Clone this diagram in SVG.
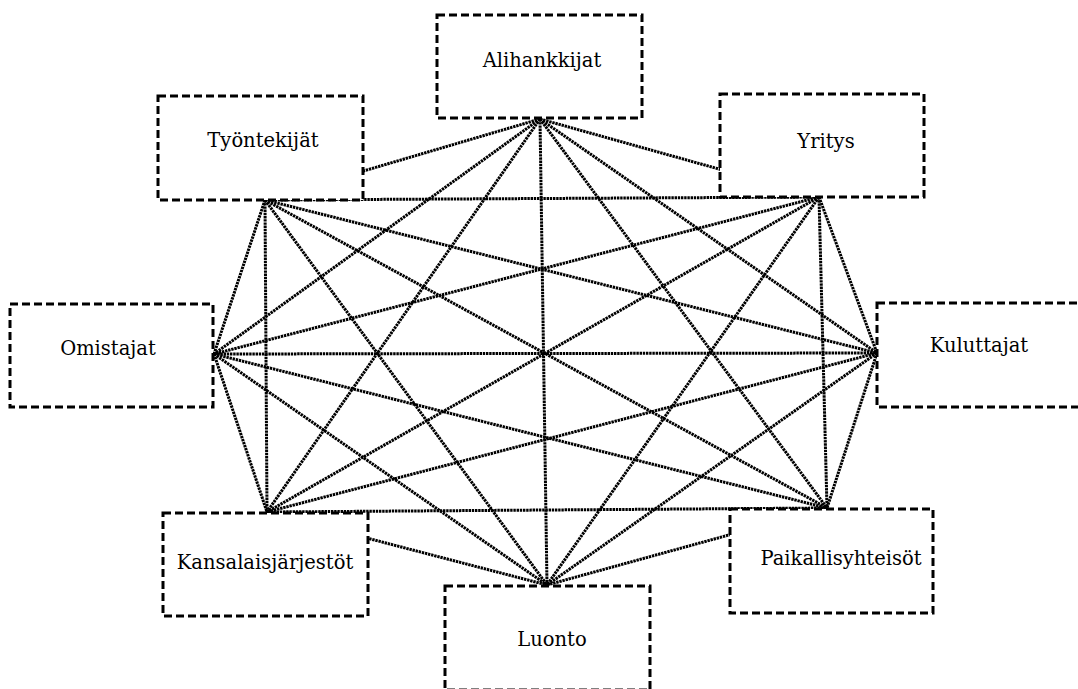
<svg xmlns="http://www.w3.org/2000/svg" width="1078" height="689" viewBox="0 0 1078 689">
<style>
.bg{fill:#fff}
.c line{stroke:#000;stroke-width:3;stroke-dasharray:2.4 0.8}
.box{fill:#fff;stroke:#000;stroke-width:3;stroke-dasharray:8 4}
.t{font-family:"DejaVu Serif","Liberation Serif",serif;font-size:19.5px;fill:#000;text-anchor:middle}
</style>
<rect class="bg" x="0" y="0" width="1078" height="689"/>
<g id="connectors" class="c">
<line x1="540" y1="119" x2="265" y2="200"/>
<line x1="540" y1="119" x2="819" y2="197"/>
<line x1="540" y1="119" x2="214" y2="354"/>
<line x1="540" y1="119" x2="877" y2="353"/>
<line x1="540" y1="119" x2="267" y2="512"/>
<line x1="540" y1="119" x2="827" y2="508"/>
<line x1="540" y1="119" x2="547" y2="585"/>
<line x1="265" y1="200" x2="819" y2="197"/>
<line x1="265" y1="200" x2="214" y2="354"/>
<line x1="265" y1="200" x2="877" y2="353"/>
<line x1="265" y1="200" x2="267" y2="512"/>
<line x1="265" y1="200" x2="827" y2="508"/>
<line x1="265" y1="200" x2="547" y2="585"/>
<line x1="819" y1="197" x2="214" y2="354"/>
<line x1="819" y1="197" x2="877" y2="353"/>
<line x1="819" y1="197" x2="267" y2="512"/>
<line x1="819" y1="197" x2="827" y2="508"/>
<line x1="819" y1="197" x2="547" y2="585"/>
<line x1="214" y1="354" x2="877" y2="353"/>
<line x1="214" y1="354" x2="267" y2="512"/>
<line x1="214" y1="354" x2="827" y2="508"/>
<line x1="214" y1="354" x2="547" y2="585"/>
<line x1="877" y1="353" x2="267" y2="512"/>
<line x1="877" y1="353" x2="827" y2="508"/>
<line x1="877" y1="353" x2="547" y2="585"/>
<line x1="267" y1="512" x2="827" y2="508"/>
<line x1="267" y1="512" x2="547" y2="585"/>
<line x1="827" y1="508" x2="547" y2="585"/>
</g>
<g id="alihankkijat"><rect class="box" x="437" y="15" width="205" height="103"/><text class="t" x="542" y="67">Alihankkijat</text></g>
<g id="tyontekijat"><rect class="box" x="158" y="96" width="205" height="104"/><text class="t" x="263" y="147">Työntekijät</text></g>
<g id="yritys"><rect class="box" x="720" y="94" width="204" height="103"/><text class="t" x="826" y="148">Yritys</text></g>
<g id="omistajat"><rect class="box" x="10" y="304" width="203" height="103"/><text class="t" x="108" y="355">Omistajat</text></g>
<g id="kuluttajat"><rect class="box" x="877" y="303" width="205" height="104"/><text class="t" x="979" y="352">Kuluttajat</text></g>
<g id="kansalaisjarjestot"><rect class="box" x="163" y="513" width="205" height="103"/><text class="t" x="265" y="569">Kansalaisjärjestöt</text></g>
<g id="paikallisyhteisot"><rect class="box" x="730" y="509" width="203" height="104"/><text class="t" x="841" y="565">Paikallisyhteisöt</text></g>
<g id="luonto"><rect class="box" x="445" y="586" width="205" height="104"/><text class="t" x="552" y="646">Luonto</text></g>
</svg>
